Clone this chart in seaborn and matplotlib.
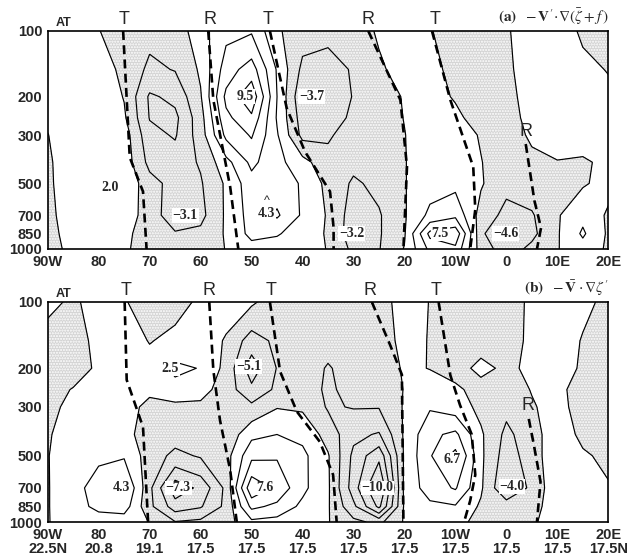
import numpy as np
import seaborn as sns
import matplotlib.pyplot as plt
from matplotlib.ticker import NullLocator

# grid: longitude (deg, west negative) and pressure levels (hPa)
lons = list(range(-90, 25, 5))
plevs = [100, 150, 200, 250, 300, 400, 500, 700, 850, 1000]

# (a) -V'.grad(zeta_bar + f), rows = pressure level, cols = longitude
adv_a = [
    [0.8, 1.0, 0.1, -1.5, -1.5, -1.2, 1.2, 3.5, 3.8, 0.3, -1.2, -1.5, -1.2, 0.3, 1.0, 0.2, -1.5, -1.5, -0.2, 1.0, 1.0, -0.3, -0.8],
    [0.6, 1.0, 1.2, -0.6, -2.4, -1.9, 0.3, 5.0, 7.0, 1.8, -2.5, -2.8, -1.8, -0.4, 1.0, 0.8, -0.8, -1.5, -0.4, 1.0, 1.0, 0.5, -0.1],
    [0.5, 1.2, 1.4, -0.1, -4.3, -3.5, -0.2, 6.5, 9.5, 2.0, -3.7, -3.3, -1.9, -1.2, 0.2, 0.8, -0.2, -1.5, -0.6, 0.8, 1.2, 1.0, 0.5],
    [0.3, 1.3, 1.6, 0.3, -4.1, -4.5, -0.8, 5.5, 7.6, 1.8, -3.0, -3.0, -1.6, -0.8, 0.05, 1.0, 0.5, -1.0, -1.0, 0.8, 1.2, 1.2, 0.8],
    [-0.05, 1.2, 1.7, 1.0, -3.4, -4.2, -1.0, 4.5, 6.2, 2.2, -2.6, -2.2, -1.3, -0.6, -0.05, 1.0, 1.2, -0.2, -1.2, 0.4, 1.0, 1.0, 0.8],
    [-0.2, 0.8, 1.8, 1.2, -2.6, -3.0, -1.8, 1.3, 4.5, 2.6, 0.8, -1.5, -1.5, -1.0, -0.1, 1.2, 1.5, 0.1, -1.5, -0.6, -0.1, -0.3, 0.5],
    [-0.3, 1.0, 1.9, 1.6, -1.2, -2.8, -2.2, 0.3, 3.2, 3.0, 1.8, -0.6, -2.3, -1.5, -0.1, 1.2, 1.5, 0.2, -1.5, -1.0, -0.6, -0.2, 0.6],
    [-0.4, 0.8, 1.6, 1.2, -1.0, -3.2, -2.6, 0.3, 2.8, 4.3, 1.7, -0.2, -3.0, -2.2, -0.2, 2.5, 3.5, -0.8, -2.6, -2.2, -0.2, 1.5, -0.3],
    [-0.4, 0.5, 1.2, 0.6, -1.2, -1.8, -1.5, 0.2, 2.6, 2.2, 1.0, -0.2, -3.2, -2.2, -0.2, 6.6, 7.5, -1.5, -4.6, -2.5, -0.2, 2.3, -0.3],
    [-0.4, 0.3, 0.8, 0.2, -0.6, -1.0, -0.8, 0.05, 1.2, 1.0, 0.5, -0.05, -2.5, -2.1, 0.1, 4.5, 5.5, -1.0, -3.0, -1.5, -0.1, 1.2, -0.3],
]

# (b) -Vbar.grad(zeta')
adv_b = [
    [0.3, -0.2, 0.5, 0.2, -1.2, -0.6, 0.3, 0.8, 0.3, -1.0, -1.0, -1.2, -1.0, -0.8, 0.8, -0.05, -1.0, -1.0, -1.2, 0.5, 0.5, 0.3, -0.3],
    [-0.5, -0.6, 0.4, 1.0, -0.1, 0.5, 1.2, -0.2, -3.0, -1.5, -1.2, -1.6, -1.4, -1.2, 0.7, -0.1, -1.2, -0.6, -0.6, 0.3, 0.8, -0.1, -0.8],
    [-0.8, -0.8, 0.3, 1.2, 0.8, 2.5, 1.9, -0.6, -5.1, -1.9, -1.4, -2.1, -1.5, -1.5, 0.3, -0.05, -0.6, 0.4, -0.3, 0.3, 1.0, -0.3, -1.0],
    [-0.7, 0.1, 1.0, 1.3, 0.6, 1.2, 0.8, -1.0, -3.5, -1.6, -1.4, -2.2, -1.6, -1.6, 0.1, 0.8, 0.3, -0.6, -1.0, 0.1, 0.6, -1.0, -1.2],
    [-0.5, 0.5, 1.5, 1.2, -0.8, -0.5, -0.5, -1.5, -1.5, -0.1, -0.3, -2.2, -1.9, -1.9, 0.2, 1.8, 1.0, -0.5, -1.5, -0.2, 0.8, -1.0, -1.2],
    [-0.2, 1.0, 1.6, 1.0, -1.5, -1.2, -1.0, -1.5, 1.5, 2.0, 1.5, -0.8, -3.5, -4.2, 0.3, 3.5, 4.5, 0.3, -2.5, -0.8, 1.2, -0.5, -1.0],
    [-0.1, 1.5, 1.6, 1.8, -1.0, -2.5, -1.8, -0.8, 3.5, 3.8, 2.5, 0.2, -4.5, -7.5, 0.3, 3.8, 6.7, 0.4, -3.0, -1.0, 1.5, 0.3, -0.5],
    [-0.1, 1.2, 3.0, 4.3, -1.5, -7.3, -5.5, -1.5, 7.6, 5.5, 2.5, 0.3, -5.0, -10.5, 0.5, 3.0, 4.2, 0.3, -4.0, -1.5, 1.5, 0.8, 0.2],
    [-0.1, 1.2, 2.5, 3.0, -1.5, -5.0, -4.2, -1.5, 4.5, 3.5, 1.5, 0.2, -3.5, -8.5, 0.3, 1.5, 1.8, -0.3, -0.8, -0.8, 1.2, 0.8, 0.5],
    [-0.1, 1.0, 1.0, 0.8, -0.05, -1.9, -1.5, -0.8, 1.5, 1.2, 1.0, 0.1, -1.5, -2.5, 0.2, 0.5, 0.5, -0.5, -0.5, -0.3, 1.0, 0.6, 0.5],
]

# trough (T) / ridge (R) axes, (lon, p) pairs
axes_a = [
    ([-75.2, -73.9, -71.3, -70.6], [100, 380, 545, 1000]),
    ([-58.5, -57.5, -54.2, -52.6], [100, 207, 518, 1000]),
    ([-46.4, -43.1, -39.5, -34.6, -33.9, -33.9], [100, 226, 358, 545, 800, 1000]),
    ([-27.1, -20.8, -19.5, -20.2], [100, 207, 420, 1000]),
    ([-14.6, -11.0, -6.5, -6.1, -7.1], [100, 207, 420, 660, 1000]),
    ([3.8, 5.5, 6.8, 6.0], [330, 600, 800, 1000]),
]
axes_b = [
    ([-74.9, -74.5, -71.3, -70.3], [100, 226, 370, 1000]),
    ([-58.3, -57.5, -56.2, -54.2, -52.9], [100, 204, 344, 580, 1000]),
    ([-46.4, -44.4, -41.1, -36.6, -34.0, -33.3], [100, 207, 315, 432, 610, 1000]),
    ([-26.4, -22.8, -20.5, -20.2], [100, 157, 214, 1000]),
    ([-13.3, -11.0, -9.1, -6.8, -6.1, -7.1, -8.3], [100, 215, 294, 400, 610, 800, 1000]),
    ([4.4, 5.4, 6.7, 6.0], [340, 447, 656, 1000]),
]

top_lons_a = [-75.1, -58.2, -46.8, -27.1, -14.0]
top_lons_b = [-74.7, -58.4, -46.2, -26.7, -13.8]
top_names = ['T', 'R', 'T', 'R', 'T']

vals_a = [(-77.8, 525, '2.0'), (-63.0, 700, '\u22123.1'), (-51.2, 200, '9.5'), (-47.0, 690, '4.3'),
          (-38.2, 200, '\u22123.7'), (-30.3, 850, '\u22123.2'), (-13.0, 850, '7.5'), (-0.1, 850, '\u22124.6')]
vals_b = [(-75.5, 700, '4.3'), (-64.4, 700, '\u22127.3'), (-47.4, 700, '7.6'), (-25.3, 700, '\u221210.0'),
          (-10.7, 520, '6.7'), (1.1, 690, '\u22124.0'), (-66.0, 200, '2.5'), (-50.6, 197, '\u22125.1')]

lat_labels = ['22.5N', '20.8', '19.1', '17.5', '17.5', '17.5', '17.5', '17.5', '17.5', '17.5', '17.5', '17.5N']
lon_labels = ['90W', '80', '70', '60', '50', '40', '30', '20', '10W', '0', '10E', '20E']

sns.set_style('white')
plt.rcParams['font.family'] = ['Liberation Sans', 'DejaVu Sans']
plt.rcParams['mathtext.fontset'] = 'stix'
plt.rcParams['hatch.color'] = '#4a4a4a'
plt.rcParams['hatch.linewidth'] = 1.0

levels = [-10, -8, -6, -4, -2, 0, 2, 4, 6, 8]
tick_font = dict(family=['Liberation Sans Narrow', 'Liberation Sans'], weight='bold', size=10.5)


def draw_panel(ax, field, trough_ridge, top_lons, values, xlabels, title):
    z = np.array(field)
    # stipple where negative
    ax.contourf(lons, plevs, z, levels=[-50, 0], colors=['#d4d4d4'], hatches=['......'])
    ax.contour(lons, plevs, z, levels=levels, colors='k', linewidths=0.85, linestyles='solid')

    for xs, ps in trough_ridge:
        sns.lineplot(x=xs, y=ps, sort=False, estimator=None, ax=ax, color='k',
                     lw=1.9, linestyle=(0, (3.4, 2.0)))

    for lon, p, txt in values:
        ax.text(lon, p, txt, ha='center', va='center', fontsize=10, fontweight='bold',
                family='Liberation Serif',
                bbox=dict(facecolor='white', edgecolor='none', pad=0.6))

    tr = ax.get_xaxis_transform()
    for lon, name in zip(top_lons, top_names):
        ax.text(lon, 1.015, name, transform=tr, ha='center', va='bottom', fontsize=13)
    ax.text(-88.5, 1.01, 'AT', transform=tr, ha='left', va='bottom', fontsize=9, fontweight='bold')
    ax.text(1.0, 1.02, title, transform=ax.transAxes, ha='right', va='bottom', fontsize=11)

    ax.set_yscale('log')
    ax.set_ylim(1000, 100)
    ax.set_xlim(-90, 20)
    ax.set_yticks([100, 200, 300, 500, 700, 850, 1000])
    ax.set_yticklabels(['100', '200', '300', '500', '700', '850', '1000'], fontdict=tick_font)
    ax.yaxis.set_minor_locator(NullLocator())
    ax.set_xticks(list(range(-90, 21, 10)))
    ax.set_xticklabels(xlabels, fontdict=tick_font, linespacing=1.0)
    ax.tick_params(length=0, pad=4)
    ax.set_xlabel('')
    ax.set_ylabel('')
    for s in ax.spines.values():
        s.set_color('k')
        s.set_linewidth(1.2)


fig = plt.figure(figsize=(6.32, 5.57), dpi=100)
ax_a = fig.add_axes([47.7 / 632, (557 - 249) / 557, 560.6 / 632, 218 / 557])
ax_b = fig.add_axes([47.7 / 632, (557 - 522) / 557, 560.6 / 632, 220 / 557])

draw_panel(ax_a, adv_a, axes_a, top_lons_a, vals_a, lon_labels,
           r"$\mathbf{(a)}\ \ -\mathbf{V}'\!\cdot\!\nabla(\bar{\zeta}+f\,)$")
draw_panel(ax_b, adv_b, axes_b, top_lons_b, vals_b,
           [a + '\n' + b for a, b in zip(lon_labels, lat_labels)],
           r"$\mathbf{(b)}\ \ -\bar{\mathbf{V}}\cdot\nabla\zeta'$")

# extra marks in the original figure
ax_a.text(-47.0, 600, '^', ha='center', va='center', fontsize=9)
ax_a.text(3.9, 290, 'R', ha='center', va='center', fontsize=13)
ax_b.text(4.3, 294, 'R', ha='center', va='center', fontsize=13)

fig.savefig('out.png', dpi=100)
